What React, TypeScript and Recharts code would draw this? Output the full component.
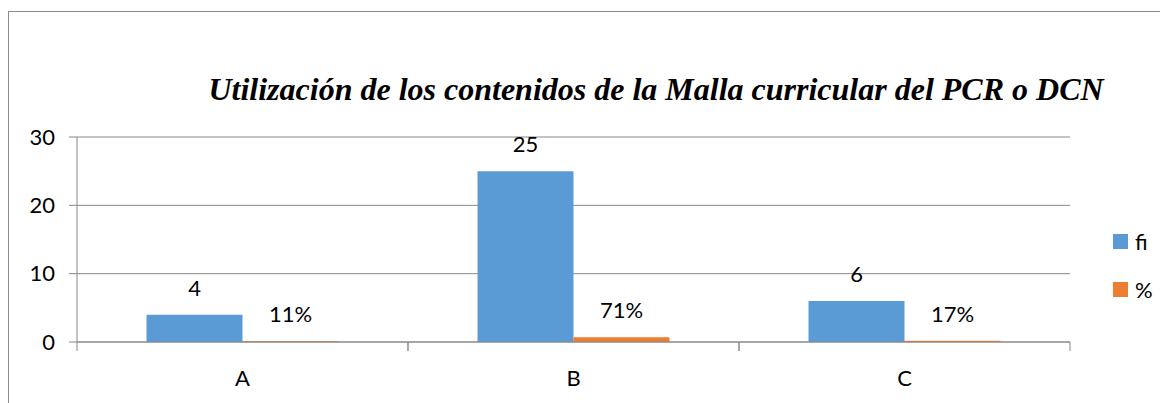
import { Bar, BarChart, CartesianGrid, LabelList, Legend, XAxis, YAxis } from "recharts";

const categories = ["A", "B", "C"];
const fiValues = [4, 25, 6];
const pctValues = [0.11, 0.71, 0.17];
const yTicks = [0, 10, 20, 30];
const seriesNames = ["fi", "%"];
const seriesColors = ["#5B9BD5", "#ED7D31"];

const data = categories.map((cat, i) => ({ cat, fi: fiValues[i], pct: pctValues[i] }));

const CHART_W = 1159;
const CHART_H = 391;
const MARGIN = { top: 125, right: 98, bottom: 0, left: 0 };
const Y_W = 68;
const X_H = 61;
const PLOT_W = CHART_W - MARGIN.right - MARGIN.left - Y_W;
const FONT = "Lato, 'Open Sans', sans-serif";
const TITLE_FONT = "'Liberation Serif', 'DejaVu Serif', serif";
const AXIS_GRAY = "#898989";

const CategoryTick = (props: any) => {
	const { x, y, payload } = props;
	const half = PLOT_W / categories.length / 2;
	return (
		<g>
			<line x1={x - half} x2={x - half} y1={y} y2={y + 9} stroke={AXIS_GRAY} />
			<line x1={x + half} x2={x + half} y1={y} y2={y + 9} stroke={AXIS_GRAY} />
			<text x={x} y={y + 44} textAnchor="middle" fontSize={22} fontFamily={FONT} fill="#000">
				{payload.value}
			</text>
		</g>
	);
};

const renderLegend = () => (
	<div style={{ fontFamily: FONT, fontSize: 22, color: "#000" }}>
		{seriesNames.map((name, i) => (
			<div key={name} style={{ display: "flex", alignItems: "center", height: 48 }}>
				<span
					style={{
						display: "inline-block",
						width: 15,
						height: 15,
						background: seriesColors[i],
						marginRight: 7
					}}
				/>
				<span>{name}</span>
			</div>
		))}
	</div>
);

export default function App() {
	return (
		<div
			style={{
				position: "relative",
				marginTop: 3,
				width: 1170,
				height: 392,
				borderLeft: "1px solid #8c8c8c",
				borderTop: "1px solid #8c8c8c",
				background: "#fff"
			}}
		>
			<BarChart
				width={CHART_W}
				height={CHART_H}
				data={data}
				margin={MARGIN}
				barCategoryGap="21%"
				barGap={0}
			>
				<text
					x={647}
					y={88}
					textAnchor="middle"
					fontFamily={TITLE_FONT}
					fontStyle="italic"
					fontWeight="bold"
					fontSize={32}
					fill="#000"
				>
					Utilización de los contenidos de la Malla curricular del PCR o DCN
				</text>
				<CartesianGrid vertical={false} stroke={AXIS_GRAY} />
				<XAxis
					dataKey="cat"
					height={X_H}
					axisLine={{ stroke: AXIS_GRAY }}
					tickLine={false}
					tickSize={0}
					tickMargin={0}
					tick={<CategoryTick />}
					interval={0}
				/>
				<YAxis
					width={Y_W}
					domain={[0, 30]}
					ticks={yTicks}
					axisLine={{ stroke: AXIS_GRAY }}
					tickLine={{ stroke: AXIS_GRAY }}
					tickSize={8}
					tickMargin={14}
					tick={{ fontSize: 22, fontFamily: FONT, fill: "#000" }}
				/>
				<Legend
					layout="horizontal"
					verticalAlign="middle"
					align="center"
					content={renderLegend}
					wrapperStyle={{ left: 1104, top: 205, width: 60, height: 100 }}
				/>
				<Bar dataKey="fi" name={seriesNames[0]} fill={seriesColors[0]} isAnimationActive={false}>
					<LabelList
						dataKey="fi"
						position="top"
						offset={19}
						fontSize={22}
						fontFamily={FONT}
						fill="#000"
					/>
				</Bar>
				<Bar dataKey="pct" name={seriesNames[1]} fill={seriesColors[1]} isAnimationActive={false}>
					<LabelList
						dataKey="pct"
						position="top"
						offset={19}
						fontSize={22}
						fontFamily={FONT}
						fill="#000"
						formatter={(v: any) => `${Math.round(Number(v) * 100)}%`}
					/>
				</Bar>
			</BarChart>
		</div>
	);
}
